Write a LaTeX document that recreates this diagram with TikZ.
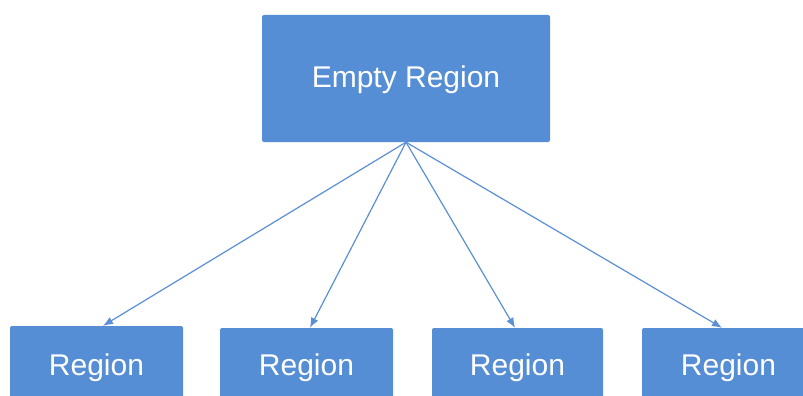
\documentclass[tikz,border=0pt]{standalone}
\usepackage{fontspec}
\setmainfont{Liberation Sans}
\usetikzlibrary{arrows.meta}
\definecolor{boxblue}{HTML}{558ED5}
\definecolor{lineblue}{HTML}{5B8FD6}
\tikzset{
  regionbox/.style={draw=none, fill=boxblue, rounded corners=2pt, inner sep=0pt,
    text=white, font=\fontsize{30}{36}\selectfont},
  link/.style={draw=lineblue, line width=1.2pt, -{Latex[length=10pt,width=8pt]}}
}
\begin{document}
\begin{tikzpicture}[x=1pt,y=-1pt]
\clip (0,0) rectangle (803,396);
\fill[white] (0,0) rectangle (803,396);
\node[regionbox, minimum width=288pt, minimum height=127pt, text height=17pt, text depth=0pt] (top) at (406,78.5) {Empty Region};
\node[regionbox, minimum width=173pt, minimum height=78pt, text height=20pt, text depth=0pt] (b1) at (96.5,365) {Region};
\node[regionbox, minimum width=173pt, minimum height=74pt, text height=20pt, text depth=0pt] (b2) at (306.5,365) {Region};
\node[regionbox, minimum width=171pt, minimum height=74pt, text height=20pt, text depth=0pt] (b3) at (517.5,365) {Region};
\node[regionbox, minimum width=173pt, minimum height=74pt, text height=20pt, text depth=0pt] (b4) at (728.5,365) {Region};
\draw[link] (top.south) -- ([xshift=6.5pt]b1.north);
\draw[link] (top.south) -- ([xshift=3.5pt]b2.north);
\draw[link] (top.south) -- ([xshift=-2.5pt]b3.north);
\draw[link] (top.south) -- ([xshift=-6.5pt]b4.north);
\end{tikzpicture}
\end{document}
